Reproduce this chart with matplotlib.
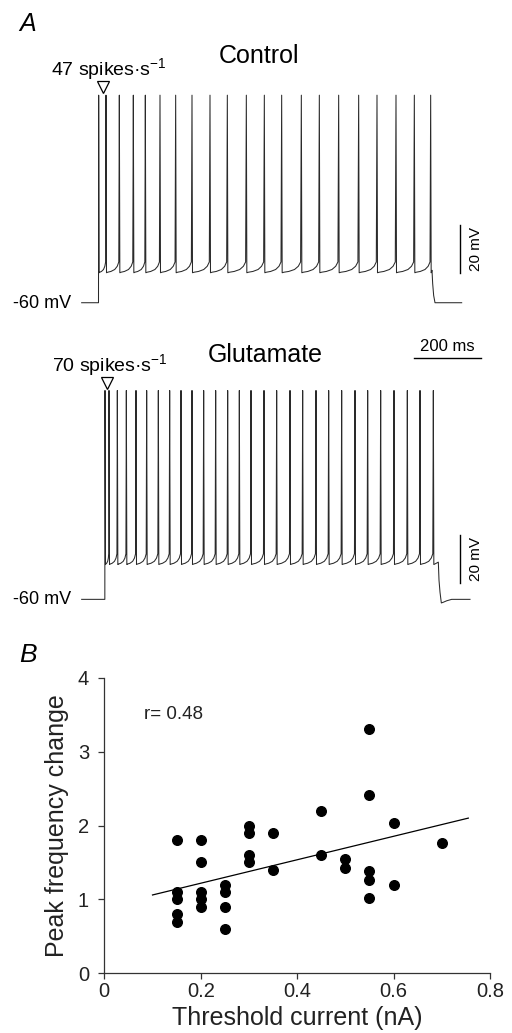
import matplotlib
matplotlib.use("Agg")
import matplotlib.pyplot as plt

plt.rcParams['font.family'] = ['Liberation Sans', 'DejaVu Sans']
plt.rcParams['mathtext.fontset'] = 'custom'
plt.rcParams['mathtext.rm'] = 'Liberation Sans'
plt.rcParams['mathtext.default'] = 'regular'

W, H = 512, 1033

# ---- panel A: spike times (ms from step onset) ----
control_spikes = [0, 22, 62, 104, 140, 184, 231, 280, 334, 386, 443, 497, 549,
                  608, 662, 720, 780, 835, 892, 947, 996]
glut_spikes = [0, 12, 37, 64, 93, 125, 160, 194, 228, 261, 296, 332, 368, 403,
               438, 477, 515, 555, 593, 633, 671, 710, 750, 788, 827, 867, 907,
               945, 985]
step_end = 1000
rest_mv = -60
control_levels = dict(trough=-47.5, thresh=-43.0, peak=26.5)
glut_levels = dict(trough=-45.5, thresh=-41.0, peak=27.0)

# ---- panel B ----
threshold_current = [0.15] * 5 + [0.2] * 5 + [0.25] * 4 + [0.3] * 4 + [0.35] * 2 + \
                    [0.45] * 2 + [0.5] * 2 + [0.55] * 5 + [0.6] * 2 + [0.7]
peak_freq_change = [1.8, 1.1, 1.0, 0.8, 0.69,
                    1.8, 1.5, 1.1, 1.0, 0.9,
                    1.2, 1.1, 0.9, 0.6,
                    2.0, 1.9, 1.6, 1.5,
                    1.9, 1.4,
                    2.2, 1.6,
                    1.54, 1.42,
                    3.3, 2.41, 1.38, 1.26, 1.02,
                    2.04, 1.19,
                    1.76]
fit_x = [0.10, 0.755]
fit_y = [1.06, 2.10]


def px_axes(fig, x0, y0, x1, y1):
    # box given in image pixels (top-left origin)
    return fig.add_axes([x0 / W, 1 - y1 / H, (x1 - x0) / W, (y1 - y0) / H])


def fig_text(fig, x, y, s, **kw):
    fig.text(x / W, 1 - y / H, s, **kw)


def build_trace(spikes, lv, t0, t1, undershoot):
    # polyline vertices: rest -> step with spikes -> decay back to rest
    ramp_f = [0.1, 0.35, 0.65, 0.85, 0.97]
    ramp_v = [0.05, 0.12, 0.3, 0.6, 1.0]
    tt = [t0, -0.5]
    vv = [rest_mv, rest_mv]
    for i, ts in enumerate(spikes):
        tt += [ts, ts + 1.5]
        vv += [lv['peak'], lv['trough']]
        nxt = spikes[i + 1] if i + 1 < len(spikes) else None
        if nxt is None:
            tt += [step_end]
            vv += [lv['trough'] + 1.0]
            break
        d = nxt - ts - 2.0
        for f, r in zip(ramp_f, ramp_v):
            tt.append(ts + 1.5 + f * d)
            vv.append(lv['trough'] + r * (lv['thresh'] - lv['trough']))
    decay_t = [2, 5, 9, 15, 25, 40]
    decay_v = [-52, -57, -60 - undershoot, -60 - undershoot * 0.8, -60 - undershoot * 0.4, -60]
    for dt, v in zip(decay_t, decay_v):
        tt.append(step_end + dt)
        vv.append(v)
    tt.append(t1)
    vv.append(rest_mv)
    return tt, vv


fig = plt.figure(figsize=(W / 100, H / 100), dpi=100)

trace_color = '#2a2a2a'

# control trace axes
ax1 = px_axes(fig, 0, 40, 512, 320)
ax1.set_xlim(-296, 1240)
ax1.set_ylim(-67.2, 49.5)
t, v = build_trace(control_spikes, control_levels, -51, 1089, 0.0)
ax1.plot(t, v, color=trace_color, lw=0.75)
ax1.plot([14], [29.8], marker='v', ms=8, mfc='white', mec='black', mew=0.9)
ax1.plot([1084, 1084], [-47.75, -27.75], color='black', lw=1.0)
ax1.axis('off')

# glutamate trace axes
ax2 = px_axes(fig, 0, 330, 512, 620)
ax2.set_xlim(-315, 1221)
ax2.set_ylim(-68.6, 52.2)
t, v = build_trace(glut_spikes, glut_levels, -70, 1095, 1.5)
ax2.plot(t, v, color=trace_color, lw=0.75)
ax2.plot([7], [30.3], marker='v', ms=8, mfc='white', mec='black', mew=0.9)
ax2.plot([1065, 1065], [-53.3, -33.3], color='black', lw=1.0)
ax2.plot([927, 1127], [40.4, 40.4], color='black', lw=1.0)
ax2.axis('off')

# panel A texts
fig_text(fig, 19, 24, 'A', fontsize=18, style='italic', va='center')
fig_text(fig, 259, 56, 'Control', fontsize=18, ha='center', va='center')
fig_text(fig, 51, 69, '47 spikes\u00b7s$^{-1}$', fontsize=14, va='center')
fig_text(fig, 13, 303, '-60 mV', fontsize=13, va='center')
fig_text(fig, 476, 249, '20 mV', fontsize=11, rotation=90, ha='center', va='center')
fig_text(fig, 265, 355, 'Glutamate', fontsize=18, ha='center', va='center')
fig_text(fig, 52, 365, '70 spikes\u00b7s$^{-1}$', fontsize=14, va='center')
fig_text(fig, 447, 347, '200 ms', fontsize=12, ha='center', va='center')
fig_text(fig, 13, 600, '-60 mV', fontsize=13, va='center')
fig_text(fig, 476, 559, '20 mV', fontsize=11, rotation=90, ha='center', va='center')

# panel B
fig_text(fig, 19, 655, 'B', fontsize=19, style='italic', va='center')
ax3 = px_axes(fig, 104.3, 677.7, 490, 973.3)
ax3.scatter(threshold_current, peak_freq_change, s=48, color='black', zorder=3, clip_on=False)
ax3.plot(fit_x, fit_y, color='black', lw=0.9)
ax3.set_xlim(0, 0.8)
ax3.set_ylim(0, 4)
ax3.set_xticks([0, 0.2, 0.4, 0.6, 0.8])
ax3.set_xticklabels(['0', '0.2', '0.4', '0.6', '0.8'])
ax3.set_yticks([0, 1, 2, 3, 4])
for side in ['top', 'right']:
    ax3.spines[side].set_visible(False)
for side in ['left', 'bottom']:
    ax3.spines[side].set_color('#333333')
    ax3.spines[side].set_linewidth(0.9)
ax3.tick_params(direction='out', length=4, width=0.9, colors='#333333',
                labelcolor='#222222', labelsize=14.5)
ax3.tick_params(axis='x', pad=2)
ax3.tick_params(axis='y', pad=7)
ax3.set_xlabel('Threshold current (nA)', fontsize=18, labelpad=4, color='#222222')
ax3.set_ylabel('Peak frequency change', fontsize=18, labelpad=6, color='#222222')
ax3.text(0.082, 3.5, 'r= 0.48', fontsize=13.5, va='center', color='#222222')

fig.savefig('out.png', dpi=100)
